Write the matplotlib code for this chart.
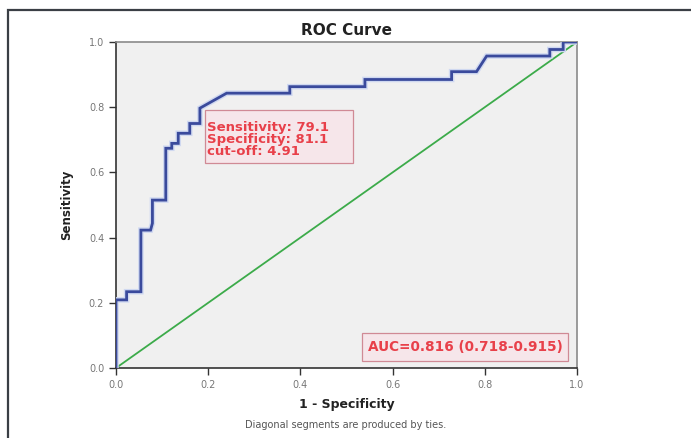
import matplotlib
matplotlib.use("Agg")
import matplotlib.pyplot as plt
from matplotlib.patches import Rectangle

# ROC data
fpr = [0.0, 0.0, 0.023, 0.023, 0.054, 0.054, 0.075, 0.079, 0.079, 0.108, 0.108,
       0.121, 0.121, 0.135, 0.135, 0.160, 0.160, 0.182, 0.182, 0.240, 0.377,
       0.377, 0.540, 0.540, 0.728, 0.728, 0.782, 0.804, 0.941, 0.941, 0.970,
       0.970, 1.0]
tpr = [0.0, 0.209, 0.209, 0.234, 0.234, 0.423, 0.423, 0.444, 0.515, 0.515, 0.674,
       0.674, 0.689, 0.689, 0.720, 0.720, 0.750, 0.750, 0.797, 0.843, 0.843,
       0.863, 0.863, 0.885, 0.885, 0.909, 0.909, 0.957, 0.957, 0.977, 0.977,
       1.0, 1.0]
ref_line = [0.0, 1.0]
ticks = [0.0, 0.2, 0.4, 0.6, 0.8, 1.0]
tick_labels = ["0.0", "0.2", "0.4", "0.6", "0.8", "1.0"]
cutoff_text = "Sensitivity: 79.1\nSpecificity: 81.1\ncut-off: 4.91"
auc_text = "AUC=0.816 (0.718-0.915)"

W, H = 691, 438
fig = plt.figure(figsize=(W / 100, H / 100), dpi=100)
fig.patch.set_facecolor("white")

# outer frame (top and left visible)
fig.add_artist(Rectangle((8 / W, -0.05), 1.1, (H - 10) / H + 0.05,
                         transform=fig.transFigure, fill=False,
                         edgecolor="#3a3f45", linewidth=1.6))

ax = fig.add_axes([116 / W, (H - 368) / H, 461 / W, 326 / H])
ax.set_facecolor("#f0f0f0")
ax.plot(ref_line, ref_line, color="#3cab4a", linewidth=1.3, zorder=2)
ax.plot(fpr, tpr, color="#cfd8f0", linewidth=4.0, zorder=3, solid_joinstyle="miter")
ax.plot(fpr, tpr, color="#3a4a9c", linewidth=2.0, zorder=4, solid_joinstyle="miter")

ax.set_xlim(0, 1)
ax.set_ylim(0, 1)
ax.set_xticks(ticks)
ax.set_yticks(ticks)
ax.set_xticklabels(tick_labels)
ax.set_yticklabels(tick_labels)
ax.tick_params(direction="out", length=5, width=1, colors="#333333",
               labelsize=7, labelcolor="#777777")
for s in ax.spines.values():
    s.set_color("#8a8a8a")
    s.set_linewidth(1.2)
ax.spines["left"].set_color("#333333")
ax.spines["bottom"].set_color("#333333")

ax.set_title("ROC Curve", fontsize=11, fontweight="bold", color="#222222", pad=5)
ax.set_xlabel("1 - Specificity", fontsize=9, fontweight="bold", color="#222222", labelpad=6)
ax.set_ylabel("Sensitivity", fontsize=8.5, fontweight="bold", color="#222222", labelpad=11)

# annotation boxes
ax.add_patch(Rectangle((0.193, 0.629), 0.321, 0.162, facecolor="#f6e6ea",
                       edgecolor="#d08a95", linewidth=0.9, zorder=5))
ax.text(0.198, 0.758, cutoff_text, fontsize=9.5, fontweight="bold",
        color="#e8404a", va="top", ha="left", linespacing=0.92, zorder=6)

ax.add_patch(Rectangle((0.534, 0.021), 0.446, 0.086, facecolor="#f6e6ea",
                       edgecolor="#d08a95", linewidth=0.9, zorder=5))
ax.text(0.757, 0.064, auc_text, fontsize=9.8, fontweight="bold",
        color="#e8404a", va="center", ha="center", zorder=6)

fig.text(346 / W, 1 - 425 / H, "Diagonal segments are produced by ties.",
         fontsize=7, color="#555555", ha="center", va="center")

fig.savefig("out.png", dpi=100)
